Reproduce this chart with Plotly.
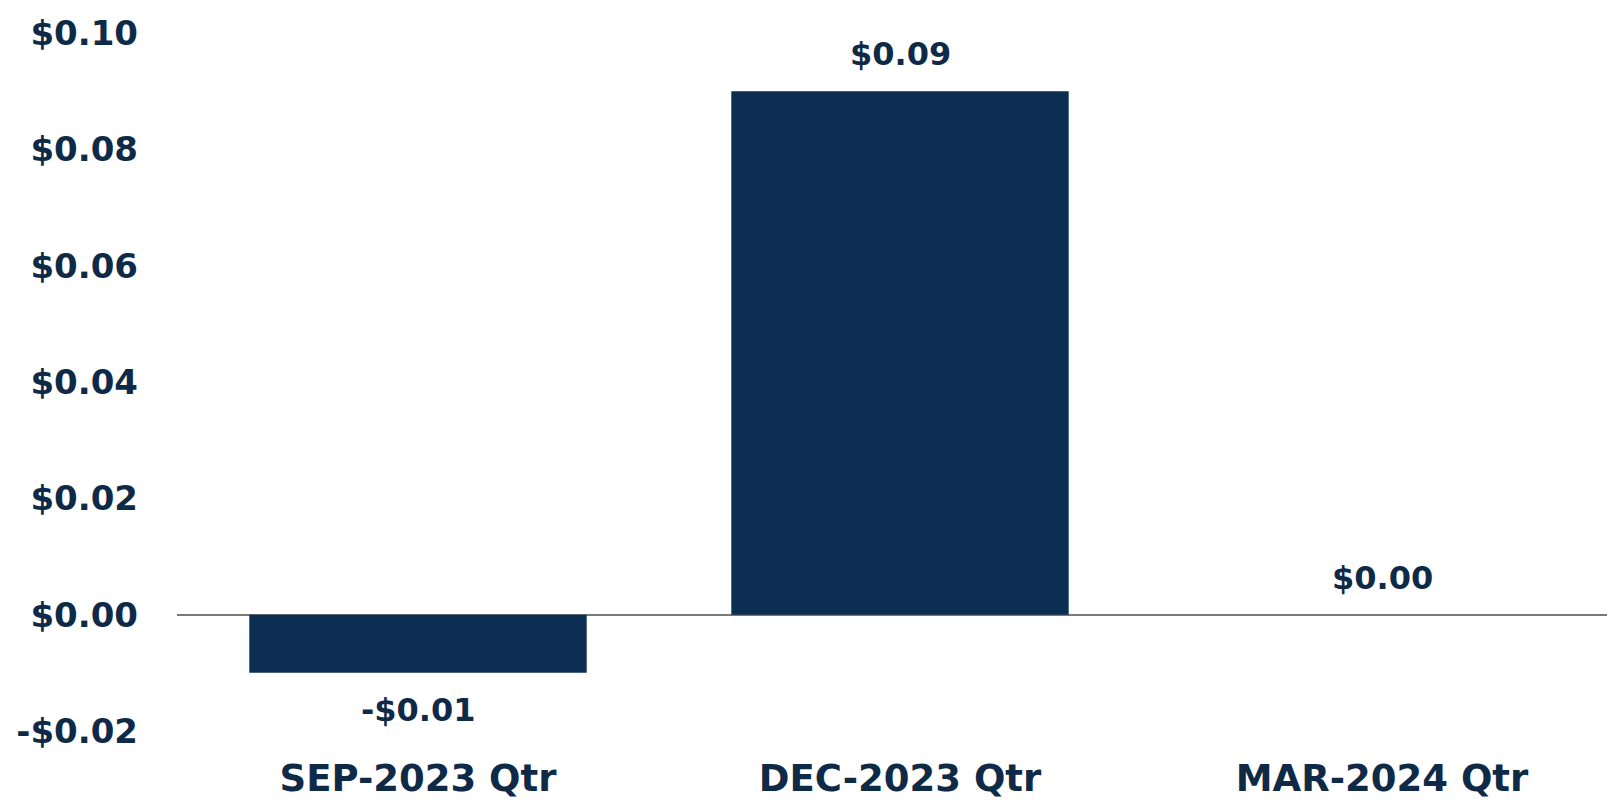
import plotly.graph_objects as go

categories = ["SEP-2023 Qtr", "DEC-2023 Qtr", "MAR-2024 Qtr"]
eps_values = [-0.01, 0.09, 0.00]
value_labels = ["-$0.01", "$0.09", "$0.00"]
tick_values = [-0.02, 0.00, 0.02, 0.04, 0.06, 0.08, 0.10]
tick_labels = ["-$0.02", "$0.00", "$0.02", "$0.04", "$0.06", "$0.08", "$0.10"]

NAVY = "#0b2e52"
TEXT = "#0f2a47"
FONT = "DejaVu Sans"

fig = go.Figure()
fig.add_trace(go.Bar(
    x=categories, y=eps_values,
    marker=dict(color=NAVY, line=dict(width=0)),
    hoverinfo="skip",
))

for c, v, t in zip(categories, eps_values, value_labels):
    neg = v < 0
    fig.add_annotation(
        x=c, y=v, text=t, showarrow=False,
        yanchor="top" if neg else "bottom",
        yshift=-16 if neg else 16,
        font=dict(family=FONT, size=32, color=TEXT, weight="bold"),
    )

fig.update_layout(
    width=1615, height=802,
    margin=dict(l=169, r=0, t=25, b=79),
    paper_bgcolor="white", plot_bgcolor="white",
    bargap=0.30,
    showlegend=False,
    font=dict(family=FONT, size=32, color=TEXT, weight="bold"),
    xaxis=dict(
        showgrid=False, showline=False, zeroline=False,
        ticks="", ticklabelstandoff=22, automargin=False,
        tickfont=dict(family=FONT, size=37, color=TEXT, weight="bold"),
    ),
    yaxis=dict(
        range=[-0.02, 0.10],
        tickvals=tick_values, ticktext=tick_labels,
        showgrid=False, showline=False,
        zeroline=True, zerolinecolor="#7a7a7a", zerolinewidth=2,
        ticks="", ticklabelstandoff=38, automargin=False,
        tickfont=dict(family=FONT, size=34, color=TEXT, weight="bold"),
    ),
)

fig.write_html("out.html")
